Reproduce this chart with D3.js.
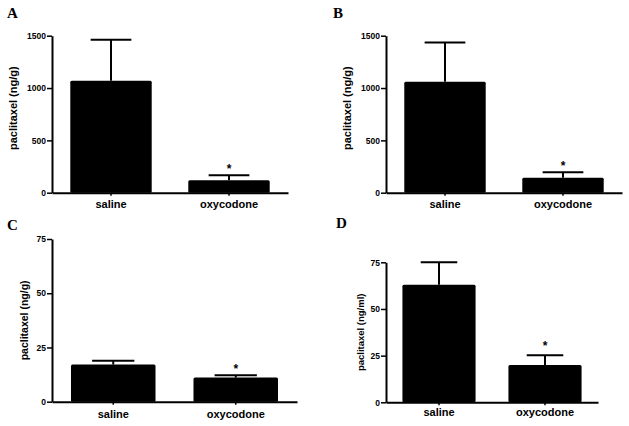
<!DOCTYPE html>
<html>
<head>
<meta charset="utf-8">
<script src="https://cdn.jsdelivr.net/npm/d3@7"></script>
<style>
  body { margin: 0; background: #fff; }
  svg { display: block; }
  .tick text { font-family: "Liberation Sans", Arial, sans-serif; font-weight: bold; }
</style>
</head>
<body>
<svg id="chart" width="629" height="426"></svg>
<script>
const categories = ["saline", "oxycodone"];

// panel A: paclitaxel (ng/g)
const meanA = [1070, 118];
const semA = [391, 48];
// panel B: paclitaxel (ng/g)
const meanB = [1060, 143];
const semB = [376, 52];
// panel C: paclitaxel (ng/g)
const meanC = [17.1, 11.1];
const semC = [1.8, 1.1];
// panel D: paclitaxel (ng/ml)
const meanD = [63, 20];
const semD = [12, 5.2];

const ticksAB = [0, 500, 1000, 1500];
const ticksCD = [0, 25, 50, 75];
const stars = ["", "*"];

const svg = d3.select("#chart");

const panels = [
    { letter: "A", mean: meanA, sem: semA, ticks: ticksAB, title: "paclitaxel (ng/g)",
      left: 52, right: 288, top: 35.7, bottom: 192.7, lx: 7, ly: 18, titleX: 13, titleSize: 11, titleDy: -6, labelY: 208, starGap: 2 },
    { letter: "B", mean: meanB, sem: semB, ticks: ticksAB, title: "paclitaxel (ng/g)",
      left: 386, right: 622, top: 35.7, bottom: 192.7, lx: 333, ly: 18, titleX: 347, titleSize: 11, titleDy: -6, labelY: 208, starGap: 2 },
    { letter: "C", mean: meanC, sem: semC, ticks: ticksCD, title: "paclitaxel (ng/g)",
      left: 52, right: 297, top: 239, bottom: 401.7, lx: 7, ly: 230, titleX: 24, titleSize: 10.5, titleDy: 0, labelY: 418, starGap: 2 },
    { letter: "D", mean: meanD, sem: semD, ticks: ticksCD, title: "paclitaxel (ng/ml)",
      left: 386, right: 598, top: 262.3, bottom: 402.3, lx: 336, ly: 228, titleX: 360, titleSize: 9.5, titleDy: 0, labelY: 416, starGap: 5 }
];

panels.forEach(p => {
    const g = svg.append("g");
    const yMax = p.ticks[p.ticks.length - 1];

    const x = d3.scaleBand()
        .domain(categories)
        .range([p.left, p.right])
        .paddingInner(0.31)
        .paddingOuter(0.155);

    const y = d3.scaleLinear()
        .domain([0, yMax])
        .range([p.bottom, p.top]);

    // bars
    g.selectAll(".bar")
        .data(categories)
        .enter().append("rect")
        .attr("x", d => x(d))
        .attr("y", (d, i) => y(p.mean[i]))
        .attr("width", x.bandwidth())
        .attr("height", (d, i) => y(0) - y(p.mean[i]))
        .attr("rx", 1.5)
        .attr("fill", "#000");

    // error bars (upper only)
    const cx = d => x(d) + x.bandwidth() / 2;
    g.selectAll(".err")
        .data(categories)
        .enter().append("line")
        .attr("x1", cx).attr("x2", cx)
        .attr("y1", (d, i) => y(p.mean[i]))
        .attr("y2", (d, i) => y(p.mean[i] + p.sem[i]))
        .attr("stroke", "#000").attr("stroke-width", 2);

    g.selectAll(".cap")
        .data(categories)
        .enter().append("line")
        .attr("x1", d => cx(d) - x.bandwidth() / 4)
        .attr("x2", d => cx(d) + x.bandwidth() / 4)
        .attr("y1", (d, i) => y(p.mean[i] + p.sem[i]))
        .attr("y2", (d, i) => y(p.mean[i] + p.sem[i]))
        .attr("stroke", "#000").attr("stroke-width", 2);

    g.selectAll(".star")
        .data(categories)
        .enter().append("text")
        .attr("x", cx)
        .attr("y", (d, i) => y(p.mean[i] + p.sem[i]) - p.starGap)
        .attr("text-anchor", "middle")
        .attr("font-family", "Liberation Sans, Arial, sans-serif")
        .attr("font-weight", "bold")
        .attr("font-size", 12)
        .text((d, i) => stars[i]);

    // y axis
    const yAxis = g.append("g")
        .attr("transform", `translate(${p.left},0)`)
        .call(d3.axisLeft(y).tickValues(p.ticks).tickFormat(d3.format("d"))
            .tickSize(5).tickPadding(1).tickSizeOuter(0));
    yAxis.select(".domain").attr("stroke-width", 2);
    yAxis.selectAll(".tick line").attr("stroke-width", 1.5);
    yAxis.selectAll(".tick text").attr("font-size", 8.5);

    // x axis
    const xAxis = g.append("g")
        .attr("transform", `translate(0,${p.bottom})`)
        .call(d3.axisBottom(x).tickSize(3).tickSizeOuter(0));
    xAxis.select(".domain").attr("stroke-width", 2);
    xAxis.selectAll(".tick line").attr("stroke-width", 1.5);
    xAxis.selectAll(".tick text")
        .attr("y", null).attr("dy", null)
        .attr("transform", `translate(0,${p.labelY - p.bottom})`)
        .attr("font-size", 11);

    // y title
    g.append("text")
        .attr("transform", `translate(${p.titleX},${(p.top + p.bottom) / 2 + p.titleDy}) rotate(-90)`)
        .attr("text-anchor", "middle")
        .attr("dominant-baseline", "central")
        .attr("font-family", "Liberation Sans, Arial, sans-serif")
        .attr("font-weight", "bold")
        .attr("font-size", p.titleSize)
        .text(p.title);

    // panel letter
    g.append("text")
        .attr("x", p.lx)
        .attr("y", p.ly)
        .attr("font-family", "Liberation Serif, Times New Roman, serif")
        .attr("font-weight", "bold")
        .attr("font-size", 15)
        .text(p.letter);
});
</script>
</body>
</html>
